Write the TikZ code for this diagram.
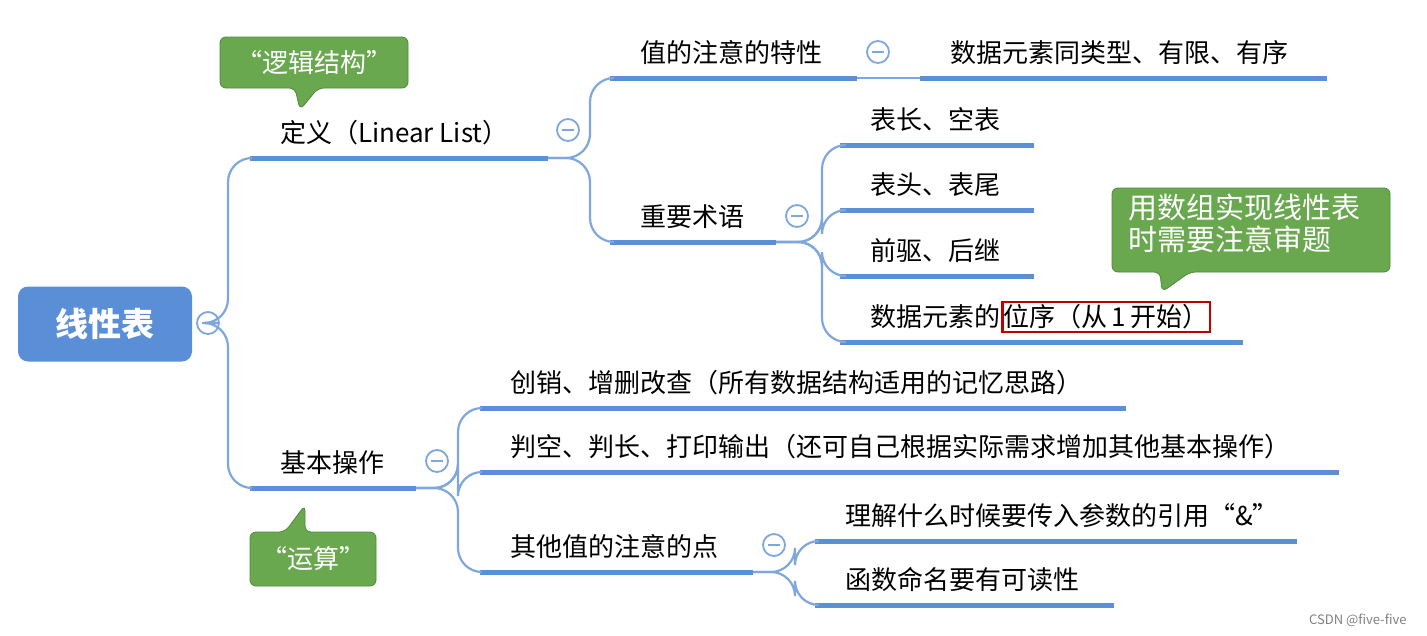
\documentclass[tikz,border=0pt]{standalone}
\usepackage{fontspec}
\setmainfont{Noto Sans CJK SC}
\usetikzlibrary{calc}
\definecolor{ul}{HTML}{5B8FD6}
\definecolor{br}{HTML}{7FA6DD}
\definecolor{gr}{HTML}{6AA84F}
\definecolor{grd}{HTML}{4E8A3A}
\definecolor{rootc}{HTML}{5A8FD8}
\begin{document}
\begin{tikzpicture}[x=1pt,y=-1pt,
  lab/.style={anchor=base west,inner sep=0pt,font=\fontsize{26}{30}\selectfont},
  uline/.style={line width=5pt,ul},
  bline/.style={line width=2.2pt,br,rounded corners=24pt},
  col/.style={circle,draw=br,line width=1.8pt,minimum size=22pt,inner sep=0pt,fill=white},
  callout/.style={fill=gr,draw=grd,line width=0.8pt,rounded corners=6pt}]
\useasboundingbox (0,0) rectangle (1427,635);
% root
\node[fill=rootc,rounded corners=10pt,minimum width=174pt,minimum height=75pt,text=white,font=\fontsize{33}{36}\selectfont\bfseries] (root) at (105,324) {线性表};
\node[col] (c0) at (208,323) {};
\draw[br,line width=2pt] (c0.center)++(-6,0) -- ++(12,0);
% level 1 underlines
\coordinate (d1) at (250,158); \coordinate (d2) at (548,158);
\coordinate (j1) at (250,488); \coordinate (j2) at (416,488);
\draw[uline] (d1)--(d2); \draw[uline] (j1)--(j2);
\node[lab] (tdef) at (280,142) {定义（Linear List）};
\node[lab] (tjb) at (280,472) {基本操作};
\draw[bline] (c0.east) -- (228,323) |- (d1);
\draw[bline] (c0.east) -- (228,323) |- (j1);
% def children
\node[col] (c1) at (568,130) {};
\draw[br,line width=2pt] (c1.center)++(-6,0) -- ++(12,0);
\coordinate (z1) at (610,78); \coordinate (z2) at (857,78);
\coordinate (s1) at (610,242); \coordinate (s2) at (776,242);
\draw[uline] (z1)--(z2); \draw[uline] (s1)--(s2);
\draw[bline] (d2) -- (590,158) |- (z1);
\draw[bline] (d2) -- (590,158) |- (s1);
\node[lab] (tz) at (640,62) {值的注意的特性};
\node[lab] (ts) at (640,226) {重要术语};
\node[col] (c2) at (878,52) {};
\draw[br,line width=2pt] (c2.center)++(-6,0) -- ++(12,0);
\coordinate (y1) at (920,78); \coordinate (y2) at (1327,78);
\draw[uline] (y1)--(y2);
\draw[br,line width=2pt] (z2) -- (y1);
\node[lab] (ty) at (950,62) {数据元素同类型、有限、有序};
\node[col] (c3) at (797,216) {};
\draw[br,line width=2pt] (c3.center)++(-6,0) -- ++(12,0);
\foreach \yy/\xe/\t/\n in {145/1034/表长、空表/a,210/1034/表头、表尾/b,276/1034/前驱、后继/c,342/1243/{数据元素的}/d}{
  \coordinate (u\n1) at (840,\yy); \coordinate (u\n2) at (\xe,\yy);
  \draw[uline] (u\n1)--(u\n2);
  \draw[bline] (s2) -- (822,242) |- (u\n1);
  \node[lab] (t\n) at (870,\yy-16) {\t};
}
\node[lab,anchor=base west,draw={rgb,255:red,192;green,0;blue,0},line width=2.4pt,inner xsep=1pt,inner ysep=0pt,text depth=6pt,text height=24pt] (td2) at ([xshift=1pt]td.base east) {位序（从\,1\,开始）};
% basic ops children
\node[col] (c4) at (437,461) {};
\draw[br,line width=2pt] (c4.center)++(-6,0) -- ++(12,0);
\foreach \yy/\xe/\t/\n in {408/1126/{创销、增删改查（所有数据结构适用的记忆思路）}/e,472/1339/{判空、判长、打印输出（还可自己根据实际需求增加其他基本操作）}/f,572/753/{其他值的注意的点}/g}{
  \coordinate (u\n1) at (480,\yy); \coordinate (u\n2) at (\xe,\yy);
  \draw[uline] (u\n1)--(u\n2);
  \draw[bline] (j2) -- (458,488) |- (u\n1);
  \node[lab] (t\n) at (510,\yy-16) {\t};
}
\node[col] (c5) at (774,545) {};
\draw[br,line width=2pt] (c5.center)++(-6,0) -- ++(12,0);
\foreach \yy/\xe/\t/\n in {541/1297/{理解什么时候要传入参数的引用“\&”}/h,605/1114/{函数命名要有可读性}/i}{
  \coordinate (u\n1) at (815,\yy); \coordinate (u\n2) at (\xe,\yy);
  \draw[uline] (u\n1)--(u\n2);
  \draw[bline] (ug2) -- (795,572) |- (u\n1);
  \node[lab] (t\n) at (845,\yy-16) {\t};
}
% callouts
\draw[callout] (220,37) -- (408,37) -- (408,88) -- (318,88) -- (300,110) -- (295,88) -- (220,88) -- cycle;
\node[text=white,font=\fontsize{26}{30}\selectfont] (k1) at (314,63) {“逻辑结构”};
\draw[callout] (250,532) -- (285,532) -- (305,505) -- (305,532) -- (376,532) -- (376,586) -- (250,586) -- cycle;
\node[text=white,font=\fontsize{26}{30}\selectfont] (k2) at (313,559) {“运算”};
\draw[callout] (1112,188) -- (1390,188) -- (1390,272) -- (1190,272) -- (1162,292) -- (1160,272) -- (1112,272) -- cycle;
\node[text=white,font=\fontsize{29}{32}\selectfont,align=left,anchor=north west,inner sep=0pt] (k3) at (1128,194) {用数组实现线性表\\时需要注意审题};
\node[anchor=east,text=gray,font=\fontsize{13}{15}\selectfont] (wm) at (1410,620) {CSDN @five-five};
\end{tikzpicture}
\end{document}
